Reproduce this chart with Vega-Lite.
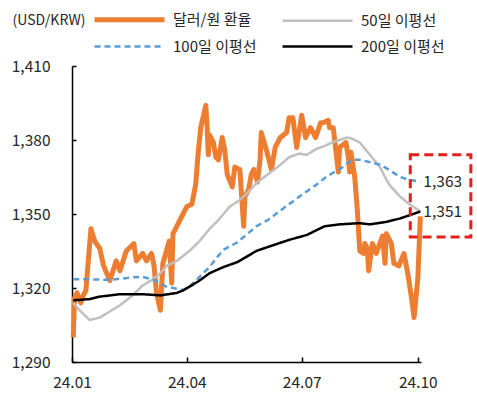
{
  "$schema": "https://vega.github.io/schema/vega-lite/v6.json",
  "width": 349,
  "height": 296,
  "autosize": {"type": "none"},
  "padding": {"left": 72, "top": 66, "right": 56, "bottom": 35},
  "config": {"view": {"stroke": null}, "font": "Noto Sans CJK KR"},
  "datasets": {
    "series": [
      {"date": "2024-01-02", "series": "달러/원 환율", "value": 1300},
      {"date": "2024-01-03", "series": "달러/원 환율", "value": 1316},
      {"date": "2024-01-05", "series": "달러/원 환율", "value": 1318},
      {"date": "2024-01-08", "series": "달러/원 환율", "value": 1314},
      {"date": "2024-01-10", "series": "달러/원 환율", "value": 1317},
      {"date": "2024-01-12", "series": "달러/원 환율", "value": 1319},
      {"date": "2024-01-16", "series": "달러/원 환율", "value": 1344},
      {"date": "2024-01-19", "series": "달러/원 환율", "value": 1339},
      {"date": "2024-01-23", "series": "달러/원 환율", "value": 1336},
      {"date": "2024-01-26", "series": "달러/원 환율", "value": 1329},
      {"date": "2024-01-31", "series": "달러/원 환율", "value": 1323},
      {"date": "2024-02-05", "series": "달러/원 환율", "value": 1331},
      {"date": "2024-02-08", "series": "달러/원 환율", "value": 1327},
      {"date": "2024-02-13", "series": "달러/원 환율", "value": 1335},
      {"date": "2024-02-19", "series": "달러/원 환율", "value": 1338},
      {"date": "2024-02-21", "series": "달러/원 환율", "value": 1331},
      {"date": "2024-02-26", "series": "달러/원 환율", "value": 1334},
      {"date": "2024-02-29", "series": "달러/원 환율", "value": 1331},
      {"date": "2024-03-04", "series": "달러/원 환율", "value": 1334},
      {"date": "2024-03-06", "series": "달러/원 환율", "value": 1329},
      {"date": "2024-03-08", "series": "달러/원 환율", "value": 1318},
      {"date": "2024-03-11", "series": "달러/원 환율", "value": 1311},
      {"date": "2024-03-13", "series": "달러/원 환율", "value": 1330},
      {"date": "2024-03-18", "series": "달러/원 환율", "value": 1339},
      {"date": "2024-03-20", "series": "달러/원 환율", "value": 1322},
      {"date": "2024-03-21", "series": "달러/원 환율", "value": 1342},
      {"date": "2024-03-25", "series": "달러/원 환율", "value": 1346},
      {"date": "2024-03-28", "series": "달러/원 환율", "value": 1349},
      {"date": "2024-04-01", "series": "달러/원 환율", "value": 1353},
      {"date": "2024-04-05", "series": "달러/원 환율", "value": 1354},
      {"date": "2024-04-08", "series": "달러/원 환율", "value": 1362},
      {"date": "2024-04-10", "series": "달러/원 환율", "value": 1375},
      {"date": "2024-04-12", "series": "달러/원 환율", "value": 1385},
      {"date": "2024-04-16", "series": "달러/원 환율", "value": 1394},
      {"date": "2024-04-17", "series": "달러/원 환율", "value": 1386},
      {"date": "2024-04-18", "series": "달러/원 환율", "value": 1374},
      {"date": "2024-04-19", "series": "달러/원 환율", "value": 1382},
      {"date": "2024-04-22", "series": "달러/원 환율", "value": 1379},
      {"date": "2024-04-24", "series": "달러/원 환율", "value": 1373},
      {"date": "2024-04-26", "series": "달러/원 환율", "value": 1372},
      {"date": "2024-04-29", "series": "달러/원 환율", "value": 1381},
      {"date": "2024-05-01", "series": "달러/원 환율", "value": 1376},
      {"date": "2024-05-03", "series": "달러/원 환율", "value": 1366},
      {"date": "2024-05-07", "series": "달러/원 환율", "value": 1361},
      {"date": "2024-05-09", "series": "달러/원 환율", "value": 1369},
      {"date": "2024-05-13", "series": "달러/원 환율", "value": 1368},
      {"date": "2024-05-16", "series": "달러/원 환율", "value": 1345},
      {"date": "2024-05-17", "series": "달러/원 환율", "value": 1357},
      {"date": "2024-05-20", "series": "달러/원 환율", "value": 1360},
      {"date": "2024-05-22", "series": "달러/원 환율", "value": 1366},
      {"date": "2024-05-24", "series": "달러/원 환율", "value": 1368},
      {"date": "2024-05-27", "series": "달러/원 환율", "value": 1363},
      {"date": "2024-05-29", "series": "달러/원 환율", "value": 1372},
      {"date": "2024-05-30", "series": "달러/원 환율", "value": 1383},
      {"date": "2024-06-03", "series": "달러/원 환율", "value": 1376},
      {"date": "2024-06-07", "series": "달러/원 환율", "value": 1368},
      {"date": "2024-06-10", "series": "달러/원 환율", "value": 1377},
      {"date": "2024-06-14", "series": "달러/원 환율", "value": 1381},
      {"date": "2024-06-19", "series": "달러/원 환율", "value": 1383},
      {"date": "2024-06-21", "series": "달러/원 환율", "value": 1389},
      {"date": "2024-06-24", "series": "달러/원 환율", "value": 1389},
      {"date": "2024-06-27", "series": "달러/원 환율", "value": 1377},
      {"date": "2024-07-01", "series": "달러/원 환율", "value": 1390},
      {"date": "2024-07-04", "series": "달러/원 환율", "value": 1381},
      {"date": "2024-07-08", "series": "달러/원 환율", "value": 1385},
      {"date": "2024-07-12", "series": "달러/원 환율", "value": 1381},
      {"date": "2024-07-16", "series": "달러/원 환율", "value": 1387},
      {"date": "2024-07-18", "series": "달러/원 환율", "value": 1387},
      {"date": "2024-07-22", "series": "달러/원 환율", "value": 1388},
      {"date": "2024-07-23", "series": "달러/원 환율", "value": 1385},
      {"date": "2024-07-26", "series": "달러/원 환율", "value": 1385},
      {"date": "2024-07-30", "series": "달러/원 환율", "value": 1367},
      {"date": "2024-07-31", "series": "달러/원 환율", "value": 1377},
      {"date": "2024-08-05", "series": "달러/원 환율", "value": 1379},
      {"date": "2024-08-07", "series": "달러/원 환율", "value": 1373},
      {"date": "2024-08-08", "series": "달러/원 환율", "value": 1367},
      {"date": "2024-08-09", "series": "달러/원 환율", "value": 1375},
      {"date": "2024-08-12", "series": "달러/원 환율", "value": 1365},
      {"date": "2024-08-14", "series": "달러/원 환율", "value": 1352},
      {"date": "2024-08-16", "series": "달러/원 환율", "value": 1335},
      {"date": "2024-08-19", "series": "달러/원 환율", "value": 1334},
      {"date": "2024-08-20", "series": "달러/원 환율", "value": 1338},
      {"date": "2024-08-22", "series": "달러/원 환율", "value": 1336},
      {"date": "2024-08-23", "series": "달러/원 환율", "value": 1327},
      {"date": "2024-08-26", "series": "달러/원 환율", "value": 1338},
      {"date": "2024-08-29", "series": "달러/원 환율", "value": 1334},
      {"date": "2024-09-03", "series": "달러/원 환율", "value": 1341},
      {"date": "2024-09-05", "series": "달러/원 환율", "value": 1330},
      {"date": "2024-09-06", "series": "달러/원 환율", "value": 1342},
      {"date": "2024-09-10", "series": "달러/원 환율", "value": 1338},
      {"date": "2024-09-12", "series": "달러/원 환율", "value": 1330},
      {"date": "2024-09-16", "series": "달러/원 환율", "value": 1329},
      {"date": "2024-09-20", "series": "달러/원 환율", "value": 1334},
      {"date": "2024-09-23", "series": "달러/원 환율", "value": 1326},
      {"date": "2024-09-26", "series": "달러/원 환율", "value": 1316},
      {"date": "2024-09-28", "series": "달러/원 환율", "value": 1308},
      {"date": "2024-10-01", "series": "달러/원 환율", "value": 1324},
      {"date": "2024-10-03", "series": "달러/원 환율", "value": 1349},

      {"date": "2024-01-02", "series": "50일 이평선", "value": 1314},
      {"date": "2024-01-07", "series": "50일 이평선", "value": 1311},
      {"date": "2024-01-15", "series": "50일 이평선", "value": 1307},
      {"date": "2024-01-23", "series": "50일 이평선", "value": 1308},
      {"date": "2024-01-31", "series": "50일 이평선", "value": 1310.5},
      {"date": "2024-02-08", "series": "50일 이평선", "value": 1313},
      {"date": "2024-02-18", "series": "50일 이평선", "value": 1317},
      {"date": "2024-02-26", "series": "50일 이평선", "value": 1321},
      {"date": "2024-03-05", "series": "50일 이평선", "value": 1323.5},
      {"date": "2024-03-11", "series": "50일 이평선", "value": 1326},
      {"date": "2024-03-16", "series": "50일 이평선", "value": 1329},
      {"date": "2024-03-24", "series": "50일 이평선", "value": 1331},
      {"date": "2024-03-29", "series": "50일 이평선", "value": 1333},
      {"date": "2024-04-03", "series": "50일 이평선", "value": 1335},
      {"date": "2024-04-11", "series": "50일 이평선", "value": 1339},
      {"date": "2024-04-19", "series": "50일 이평선", "value": 1344},
      {"date": "2024-04-25", "series": "50일 이평선", "value": 1347},
      {"date": "2024-04-30", "series": "50일 이평선", "value": 1350},
      {"date": "2024-05-05", "series": "50일 이평선", "value": 1353},
      {"date": "2024-05-11", "series": "50일 이평선", "value": 1355},
      {"date": "2024-05-17", "series": "50일 이평선", "value": 1357.5},
      {"date": "2024-05-26", "series": "50일 이평선", "value": 1362.5},
      {"date": "2024-06-04", "series": "50일 이평선", "value": 1366},
      {"date": "2024-06-13", "series": "50일 이평선", "value": 1369.5},
      {"date": "2024-06-21", "series": "50일 이평선", "value": 1373},
      {"date": "2024-06-29", "series": "50일 이평선", "value": 1374.5},
      {"date": "2024-07-05", "series": "50일 이평선", "value": 1374},
      {"date": "2024-07-13", "series": "50일 이평선", "value": 1376.5},
      {"date": "2024-07-19", "series": "50일 이평선", "value": 1377.5},
      {"date": "2024-07-25", "series": "50일 이평선", "value": 1379},
      {"date": "2024-07-31", "series": "50일 이평선", "value": 1380},
      {"date": "2024-08-06", "series": "50일 이평선", "value": 1381},
      {"date": "2024-08-10", "series": "50일 이평선", "value": 1380.5},
      {"date": "2024-08-16", "series": "50일 이평선", "value": 1379},
      {"date": "2024-08-24", "series": "50일 이평선", "value": 1374},
      {"date": "2024-09-01", "series": "50일 이평선", "value": 1369},
      {"date": "2024-09-06", "series": "50일 이평선", "value": 1364},
      {"date": "2024-09-09", "series": "50일 이평선", "value": 1361.5},
      {"date": "2024-09-17", "series": "50일 이평선", "value": 1357},
      {"date": "2024-09-23", "series": "50일 이평선", "value": 1354.5},
      {"date": "2024-10-03", "series": "50일 이평선", "value": 1351},

      {"date": "2024-01-02", "series": "100일 이평선", "value": 1323.5},
      {"date": "2024-01-15", "series": "100일 이평선", "value": 1323.5},
      {"date": "2024-01-31", "series": "100일 이평선", "value": 1323.3},
      {"date": "2024-02-18", "series": "100일 이평선", "value": 1324.3},
      {"date": "2024-02-26", "series": "100일 이평선", "value": 1324.5},
      {"date": "2024-03-05", "series": "100일 이평선", "value": 1323.5},
      {"date": "2024-03-16", "series": "100일 이평선", "value": 1320.5},
      {"date": "2024-03-29", "series": "100일 이평선", "value": 1319.2},
      {"date": "2024-04-03", "series": "100일 이평선", "value": 1320.5},
      {"date": "2024-04-11", "series": "100일 이평선", "value": 1324.5},
      {"date": "2024-04-19", "series": "100일 이평선", "value": 1328.5},
      {"date": "2024-04-25", "series": "100일 이평선", "value": 1332.5},
      {"date": "2024-04-30", "series": "100일 이평선", "value": 1335.5},
      {"date": "2024-05-11", "series": "100일 이평선", "value": 1338.5},
      {"date": "2024-05-26", "series": "100일 이평선", "value": 1345},
      {"date": "2024-06-04", "series": "100일 이평선", "value": 1347.5},
      {"date": "2024-06-13", "series": "100일 이평선", "value": 1351},
      {"date": "2024-06-21", "series": "100일 이평선", "value": 1354},
      {"date": "2024-06-29", "series": "100일 이평선", "value": 1357},
      {"date": "2024-07-13", "series": "100일 이평선", "value": 1362},
      {"date": "2024-07-19", "series": "100일 이평선", "value": 1364.5},
      {"date": "2024-07-25", "series": "100일 이평선", "value": 1366.5},
      {"date": "2024-07-31", "series": "100일 이평선", "value": 1368},
      {"date": "2024-08-06", "series": "100일 이평선", "value": 1370.5},
      {"date": "2024-08-10", "series": "100일 이평선", "value": 1372},
      {"date": "2024-08-16", "series": "100일 이평선", "value": 1372},
      {"date": "2024-08-24", "series": "100일 이평선", "value": 1371},
      {"date": "2024-09-01", "series": "100일 이평선", "value": 1370},
      {"date": "2024-09-06", "series": "100일 이평선", "value": 1368.6},
      {"date": "2024-09-17", "series": "100일 이평선", "value": 1365},
      {"date": "2024-09-23", "series": "100일 이평선", "value": 1364},
      {"date": "2024-10-03", "series": "100일 이평선", "value": 1363},

      {"date": "2024-01-02", "series": "200일 이평선", "value": 1315},
      {"date": "2024-01-15", "series": "200일 이평선", "value": 1315.5},
      {"date": "2024-01-23", "series": "200일 이평선", "value": 1316.5},
      {"date": "2024-02-08", "series": "200일 이평선", "value": 1317.5},
      {"date": "2024-02-26", "series": "200일 이평선", "value": 1317.5},
      {"date": "2024-03-11", "series": "200일 이평선", "value": 1317},
      {"date": "2024-03-24", "series": "200일 이평선", "value": 1318},
      {"date": "2024-03-29", "series": "200일 이평선", "value": 1319},
      {"date": "2024-04-03", "series": "200일 이평선", "value": 1320.5},
      {"date": "2024-04-11", "series": "200일 이평선", "value": 1323},
      {"date": "2024-04-19", "series": "200일 이평선", "value": 1326},
      {"date": "2024-04-30", "series": "200일 이평선", "value": 1328.5},
      {"date": "2024-05-11", "series": "200일 이평선", "value": 1330.5},
      {"date": "2024-05-26", "series": "200일 이평선", "value": 1335},
      {"date": "2024-06-04", "series": "200일 이평선", "value": 1336.6},
      {"date": "2024-06-21", "series": "200일 이평선", "value": 1339.5},
      {"date": "2024-07-05", "series": "200일 이평선", "value": 1341.5},
      {"date": "2024-07-19", "series": "200일 이평선", "value": 1345},
      {"date": "2024-07-31", "series": "200일 이평선", "value": 1345.8},
      {"date": "2024-08-16", "series": "200일 이평선", "value": 1346.3},
      {"date": "2024-08-24", "series": "200일 이평선", "value": 1345.8},
      {"date": "2024-09-06", "series": "200일 이평선", "value": 1346.8},
      {"date": "2024-09-17", "series": "200일 이평선", "value": 1348.2},
      {"date": "2024-10-03", "series": "200일 이평선", "value": 1351}
    ],
    "labels": [
      {"date": "2024-10-03", "value": 1363, "label": "1,363"},
      {"date": "2024-10-03", "value": 1351, "label": "1,351"}
    ],
    "box": [
      {"start": "2024-09-25", "end": "2024-11-12", "top": 1374, "bottom": 1340.7}
    ]
  },
  "layer": [
    {
      "data": {"name": "series"},
      "mark": {"type": "line", "strokeJoin": "round", "strokeCap": "butt"},
      "encoding": {
        "x": {
          "field": "date", "type": "temporal",
          "scale": {"type": "utc", "domain": [{"year": 2024, "month": 1, "date": 1, "utc": true}, {"year": 2024, "month": 10, "date": 3, "hours": 12, "utc": true}]},
          "axis": {
            "title": null,
            "values": [
              {"year": 2024, "month": 1, "date": 1, "utc": true},
              {"year": 2024, "month": 4, "date": 1, "utc": true},
              {"year": 2024, "month": 7, "date": 1, "utc": true},
              {"year": 2024, "month": 10, "date": 1, "utc": true}
            ],
            "format": "%y.%m",
            "grid": false,
            "labelFontSize": 15.5,
            "labelColor": "#262626",
            "labelPadding": 18,
            "labelFlush": false,
            "tickSize": -5,
            "tickColor": "#000000",
            "tickWidth": 1.5,
            "domainColor": "#000000",
            "domainWidth": 1.5
          }
        },
        "y": {
          "field": "value", "type": "quantitative",
          "scale": {"domain": [1290, 1410], "nice": false, "zero": false},
          "axis": {
            "values": [1290, 1320, 1350, 1380, 1410],
            "format": ",.0f",
            "grid": false,
            "title": "(USD/KRW)",
            "titleAngle": 0,
            "titleAlign": "left",
            "titleBaseline": "middle",
            "titleX": -60,
            "titleY": -46,
            "titleFontSize": 14,
            "titleFontWeight": "normal",
            "titleColor": "#262626",
            "labelFontSize": 15.5,
            "labelColor": "#262626",
            "labelPadding": 26,
            "tickSize": -4,
            "tickColor": "#000000",
            "tickWidth": 1.5,
            "domainColor": "#000000",
            "domainWidth": 1.5
          }
        },
        "color": {
          "field": "series", "type": "nominal",
          "scale": {"domain": ["달러/원 환율", "50일 이평선", "100일 이평선", "200일 이평선"], "range": ["#ED7D31", "#BFBFBF", "#5B9BD5", "#000000"]},
          "legend": {"orient": "none", "direction": "horizontal", "legendX": 20, "legendY": -54, "columns": 2, "title": null, "symbolType": "M-1,0H13", "symbolSize": 100, "labelOffset": 66, "labelFontSize": 15, "labelColor": "#262626", "columnPadding": 20, "rowPadding": 9, "labelLimit": 200}
        },
        "strokeWidth": {
          "field": "series", "type": "nominal",
          "scale": {"type": "ordinal", "domain": ["달러/원 환율", "50일 이평선", "100일 이평선", "200일 이평선"], "range": [5, 2.5, 2.5, 2.5]},
          "legend": {"orient": "none", "direction": "horizontal", "legendX": 20, "legendY": -54, "columns": 2, "title": null, "symbolType": "M-1,0H13", "symbolSize": 100, "labelOffset": 66, "labelFontSize": 15, "labelColor": "#262626", "columnPadding": 20, "rowPadding": 9, "labelLimit": 200}
        },
        "strokeDash": {
          "field": "series", "type": "nominal",
          "scale": {"domain": ["달러/원 환율", "50일 이평선", "100일 이평선", "200일 이평선"], "range": [[1, 0], [1, 0], [6, 4], [1, 0]]},
          "legend": {"orient": "none", "direction": "horizontal", "legendX": 20, "legendY": -54, "columns": 2, "title": null, "symbolType": "M-1,0H13", "symbolSize": 100, "labelOffset": 66, "labelFontSize": 15, "labelColor": "#262626", "columnPadding": 20, "rowPadding": 9, "labelLimit": 200}
        }
      }
    },
    {
      "data": {"name": "box"},
      "mark": {"type": "rect", "fill": null, "fillOpacity": 0, "stroke": "#E3201C", "strokeWidth": 3, "strokeDash": [9, 5]},
      "encoding": {
        "x": {"field": "start", "type": "temporal"},
        "x2": {"field": "end"},
        "y": {"field": "top", "type": "quantitative"},
        "y2": {"field": "bottom"}
      }
    },
    {
      "data": {"name": "labels"},
      "mark": {"type": "text", "align": "left", "baseline": "middle", "dx": 3, "fontSize": 15.5, "color": "#262626"},
      "encoding": {
        "x": {"field": "date", "type": "temporal"},
        "y": {"field": "value", "type": "quantitative"},
        "text": {"field": "label"}
      }
    }
  ]
}
